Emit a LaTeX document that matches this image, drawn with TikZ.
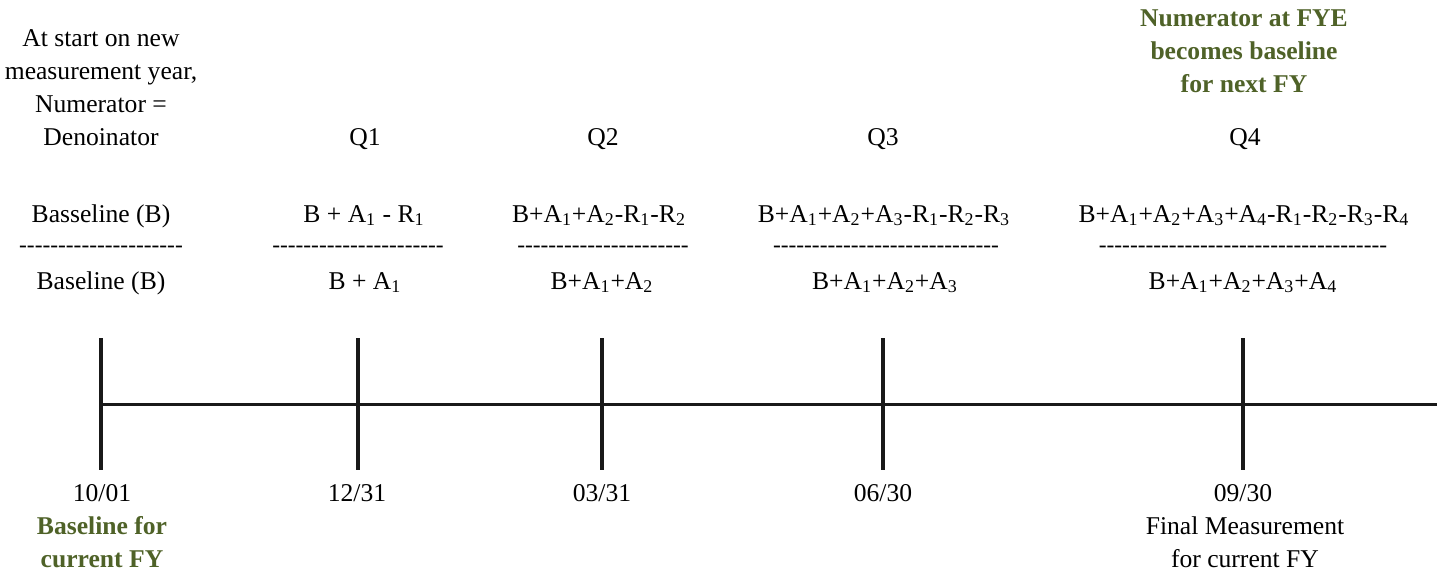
\documentclass[tikz,border=0pt]{standalone}
\usepackage{fontspec}
\setmainfont{Liberation Serif}
\newfontfamily\dashfont{Liberation Serif}[Ligatures=TeXOff]
\usepackage{tikz}
\definecolor{fygreen}{RGB}{79,98,40}
\tikzset{
	txt/.style={align=center,inner sep=0pt,anchor=base,font=\fontsize{12.8}{16.5}\selectfont},
	gtxt/.style={txt,text=fygreen,font=\fontsize{12.8}{16.5}\selectfont\bfseries},
	dashrow/.style={inner sep=0pt,anchor=base,font=\dashfont\fontsize{11.7}{14}\selectfont},
	tline/.style={draw=black!90,line width=1.5pt},
	ttick/.style={draw=black!90,line width=2pt}
}

\begin{document}
\begin{tikzpicture}[x=0.5pt,y=-0.5pt]
	\useasboundingbox (0,0) rectangle (1437,573);
	
	% timeline and quarter ticks
	\foreach \n/\x in {0/101,1/358,2/602,3/883,4/1243} {
		\coordinate (t\n) at (\x,404);
		\coordinate (t\n top) at (\x,338);
		\coordinate (t\n bot) at (\x,470);
	}
	\coordinate (tend) at (1437,404);
	\draw[tline] (t0) -- (tend);
	\foreach \n in {0,...,4} \draw[ttick] (t\n top) -- (t\n bot);
	
	% notes on top (base = last line)
	\node[txt] (startnote) at (101,145) {At start on new\\measurement year,\\Numerator =\\Denoinator};
	\node[gtxt] (fyenote) at (1244,92) {Numerator at FYE\\becomes baseline\\for next FY};
	
	\node[txt] (q1) at (365,145) {Q1};
	\node[txt] (q2) at (603,145) {Q2};
	\node[txt] (q3) at (883,145) {Q3};
	\node[txt] (q4) at (1245,145) {Q4};
	
	% ratios
	\node[txt] (num0) at (101,222) {Basseline (B)};
	\node[txt] (num1) at (364,222) {B + A\textsubscript{1} - R\textsubscript{1}};
	\node[txt] (num2) at (599,222) {B+A\textsubscript{1}+A\textsubscript{2}-R\textsubscript{1}-R\textsubscript{2}};
	\node[txt] (num3) at (884,222) {B+A\textsubscript{1}+A\textsubscript{2}+A\textsubscript{3}-R\textsubscript{1}-R\textsubscript{2}-R\textsubscript{3}};
	\node[txt] (num4) at (1244,222) {B+A\textsubscript{1}+A\textsubscript{2}+A\textsubscript{3}+A\textsubscript{4}-R\textsubscript{1}-R\textsubscript{2}-R\textsubscript{3}-R\textsubscript{4}};
	
	\node[dashrow] (dash0) at (101,252) {---------------------};
	\node[dashrow] (dash1) at (358,252) {----------------------};
	\node[dashrow] (dash2) at (603,252) {----------------------};
	\node[dashrow] (dash3) at (886,252) {-----------------------------};
	\node[dashrow] (dash4) at (1243,252) {-------------------------------------};
	
	\node[txt] (den0) at (101,289) {Baseline (B)};
	\node[txt] (den1) at (365,289) {B + A\textsubscript{1}};
	\node[txt] (den2) at (602,289) {B+A\textsubscript{1}+A\textsubscript{2}};
	\node[txt] (den3) at (885,289) {B+A\textsubscript{1}+A\textsubscript{2}+A\textsubscript{3}};
	\node[txt] (den4) at (1243,289) {B+A\textsubscript{1}+A\textsubscript{2}+A\textsubscript{3}+A\textsubscript{4}};
	
	% dates
	\node[txt] (d0) at (102,501) {10/01};
	\node[txt] (d1) at (357,501) {12/31};
	\node[txt] (d2) at (602,501) {03/31};
	\node[txt] (d3) at (883,501) {06/30};
	\node[txt] (d4) at (1243,501) {09/30};
	
	\node[gtxt] (basenote) at (102,567) {Baseline for\\current FY};
	\node[txt] (finalnote) at (1245,567) {Final Measurement\\for current FY};
\end{tikzpicture}
\end{document}
